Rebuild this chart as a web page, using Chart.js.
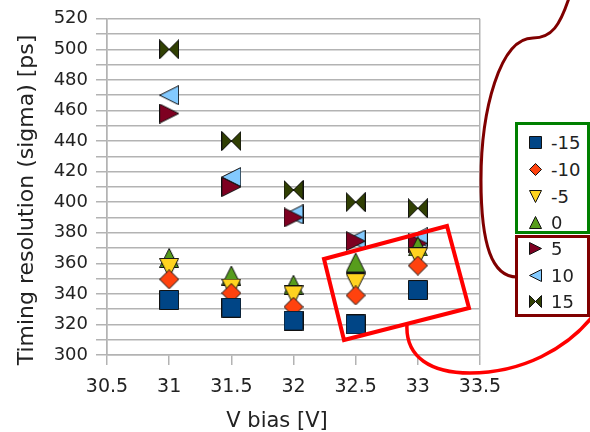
<!DOCTYPE html>
<html><head><meta charset="utf-8">
<script src="https://cdn.jsdelivr.net/npm/chart.js@4"></script>
<style>
html,body{margin:0;padding:0;background:#fff;}
#wrap{position:relative;width:590px;height:432px;overflow:hidden;}
#c{position:absolute;left:0;top:0;}
.lg{position:absolute;box-sizing:border-box;background:#fff;border-style:solid;border-width:3px;}
.item{position:absolute;left:0;height:26px;font:18px "DejaVu Sans";color:#222;white-space:nowrap;}
.item canvas{position:absolute;}
.item span{position:absolute;left:33px;top:0;line-height:26px;}
</style></head><body>
<div id="wrap"><canvas id="c" width="590" height="432"></canvas><div id="legend"></div></div>
<script>
// ---- data ----
const vbias = [31, 31.5, 32, 32.5, 33];
const seriesNames = ['-15', '-10', '-5', '0', '5', '10', '15'];
const sM15 = [336, 331, 322.5, 320, 342.5];
const sM10 = [349.5, 340.5, 331.5, 339, 358.5];
const sM5  = [357, 343.5, 339, 347, 364];
const s0   = [363.5, 352, 346, 360.5, 371];
const s5   = [458, 410, 390, 374.5, 373];
const s10  = [470, 416.5, 392, 375.5, 377];
const s15  = [500, 440, 408, 400, 396];
const xTickValues = [30.5, 31, 31.5, 32, 32.5, 33, 33.5];
const yTickValues = [300, 320, 340, 360, 380, 400, 420, 440, 460, 480, 500, 520];
const xTitle = 'V bias [V]';
const yTitle = 'Timing resolution (sigma) [ps]';

// ---- styles ----
const colors = ['#004586', '#ff420e', '#ffd320', '#579d1c', '#7e0021', '#83caff', '#314004'];
const shapes = ['square', 'diamond', 'down', 'up', 'right', 'left', 'bowtie'];
const FONT = '"DejaVu Sans", sans-serif';

function marker(shape, color, s) {
  const c = document.createElement('canvas');
  c.width = s + 1; c.height = s + 1;
  const g = c.getContext('2d');
  const a = 0.5, b = s + 0.5, m = (s + 1) / 2;
  g.beginPath();
  if (shape === 'square') { g.rect(a, a, s, s); }
  else if (shape === 'diamond') { g.moveTo(m, a); g.lineTo(b, m); g.lineTo(m, b); g.lineTo(a, m); g.closePath(); }
  else if (shape === 'down') { g.moveTo(a, a); g.lineTo(b, a); g.lineTo(m, b); g.closePath(); }
  else if (shape === 'up') { g.moveTo(m, a); g.lineTo(b, b); g.lineTo(a, b); g.closePath(); }
  else if (shape === 'right') { g.moveTo(a, a); g.lineTo(b, m); g.lineTo(a, b); g.closePath(); }
  else if (shape === 'left') { g.moveTo(b, a); g.lineTo(b, b); g.lineTo(a, m); g.closePath(); }
  else if (shape === 'bowtie') {
    g.moveTo(a, a); g.lineTo(m, m); g.lineTo(a, b); g.closePath();
    g.moveTo(b, a); g.lineTo(m, m); g.lineTo(b, b); g.closePath();
  }
  g.fillStyle = color; g.fill();
  g.lineWidth = 1; g.strokeStyle = '#111'; g.lineJoin = 'miter'; g.stroke();
  return c;
}

const seriesValues = [sM15, sM10, sM5, s0, s5, s10, s15];
const datasets = seriesValues.map((vals, i) => ({
  label: seriesNames[i],
  data: vbias.map((x, j) => ({ x: x, y: vals[j] })),
  pointStyle: marker(shapes[i], colors[i], 19),
  pointRadius: 10,
  showLine: false,
  backgroundColor: colors[i],
  borderColor: colors[i]
}));

const GRID = '#b3b3b3';

const deco = {
  id: 'deco',
  afterDraw(chart) {
    const ctx = chart.ctx;
    ctx.save();
    // axis titles
    ctx.fillStyle = '#222';
    ctx.font = '21px ' + FONT;
    ctx.textAlign = 'center';
    ctx.textBaseline = 'alphabetic';
    ctx.fillText(xTitle, 277, 427);
    ctx.save();
    ctx.translate(33, 200);
    ctx.rotate(-Math.PI / 2);
    ctx.font = '22px ' + FONT;
    ctx.fillText(yTitle, 0, 0);
    ctx.restore();
    // annotations
    ctx.lineJoin = 'miter';
    ctx.strokeStyle = '#ff0000';
    ctx.lineWidth = 4;
    ctx.beginPath();
    ctx.moveTo(324, 259); ctx.lineTo(447, 226); ctx.lineTo(469, 308); ctx.lineTo(344, 340);
    ctx.closePath(); ctx.stroke();
    ctx.lineWidth = 3.5;
    ctx.beginPath();
    ctx.moveTo(407, 324);
    ctx.bezierCurveTo(405, 358, 432, 373, 470, 373);
    ctx.bezierCurveTo(520, 373, 568, 350, 596, 312);
    ctx.stroke();
    ctx.strokeStyle = '#800000';
    ctx.lineWidth = 3;
    ctx.beginPath();
    ctx.moveTo(569, -2);
    ctx.bezierCurveTo(560, 25, 552, 38, 533, 38);
    ctx.bezierCurveTo(500, 38, 481, 110, 481, 180);
    ctx.bezierCurveTo(481, 245, 492, 277, 517, 277);
    ctx.stroke();
    ctx.restore();
  }
};

new Chart(document.getElementById('c'), {
  type: 'scatter',
  data: { datasets },
  options: {
    responsive: false,
    animation: false,
    devicePixelRatio: 1,
    layout: { padding: { left: 40, right: 110, top: 18, bottom: 0 } },
    plugins: { legend: { display: false }, tooltip: { enabled: false } },
    scales: {
      x: {
        type: 'linear', min: 30.5, max: 33.5,
        afterBuildTicks: s => { s.ticks = xTickValues.map(v => ({ value: v })); },
        afterFit: s => { s.height = 432 - 355; },
        ticks: { callback: v => String(v), color: '#222', font: { family: FONT, size: 19 }, padding: 11, maxRotation: 0, autoSkip: false },
        grid: {
          color: ctx => (ctx.index === 0 || ctx.index === xTickValues.length - 1) ? GRID : 'rgba(0,0,0,0)',
          tickColor: GRID, tickLength: 10, lineWidth: 1.5
        },
        border: { color: GRID, width: 1.5 }
      },
      y: {
        type: 'linear', min: 300, max: 520,
        ticks: { stepSize: 10, autoSkip: false, color: '#222', font: { family: FONT, size: 18 }, padding: 8,
          callback: v => yTickValues.includes(v) ? String(v) : '' },
        afterFit: s => { s.width = 107 - 40; },
        grid: { color: GRID, tickColor: GRID, tickLength: 11, lineWidth: 1.5 },
        border: { color: GRID, width: 1.5 }
      }
    }
  },
  plugins: [deco]
});

// ---- legend (HTML) ----
const legend = document.getElementById('legend');
function box(left, top, w, h, color, idx, rowTops) {
  const d = document.createElement('div');
  d.className = 'lg';
  d.style.cssText = `left:${left}px;top:${top}px;width:${w}px;height:${h}px;border-color:${color};`;
  idx.forEach((i, k) => {
    const it = document.createElement('div');
    it.className = 'item';
    it.style.top = rowTops[k] + 'px';
    const mc = marker(shapes[i], colors[i], 12);
    mc.style.left = '11px'; mc.style.top = '6px';
    it.appendChild(mc);
    const sp = document.createElement('span');
    sp.textContent = seriesNames[i];
    it.appendChild(sp);
    d.appendChild(it);
  });
  legend.appendChild(d);
}
box(515, 122, 75, 112, '#008000', [0, 1, 2, 3], [5, 32, 59, 85]);
box(515, 235, 75, 82, '#800000', [4, 5, 6], [-2, 25, 51]);
</script>
</body></html>
